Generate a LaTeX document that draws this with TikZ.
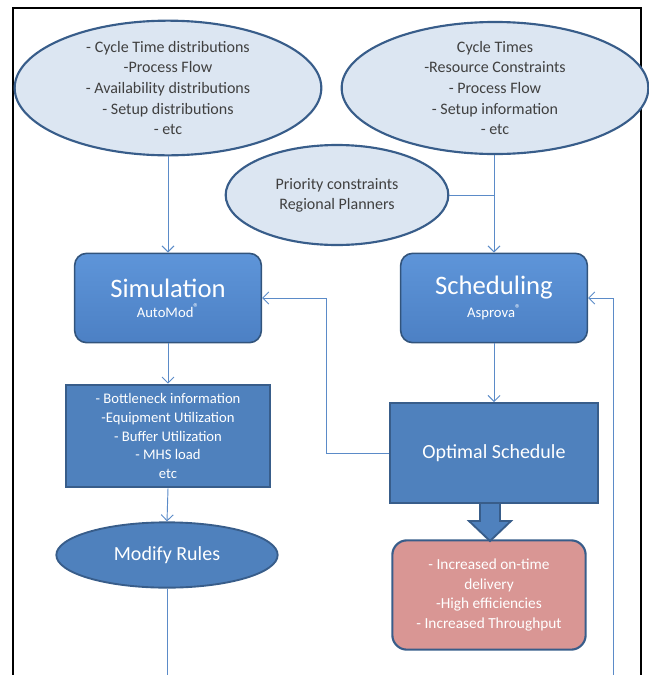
\documentclass[tikz,border=0pt]{standalone}
\usepackage{fontspec}
\setmainfont{Carlito}
\usepackage{tikz}
\usetikzlibrary{arrows.meta, positioning, shapes.geometric}

\definecolor{paleblue}{HTML}{DCE6F2}
\definecolor{edgeblue}{HTML}{385D8A}
\definecolor{boxblue}{HTML}{4F81BD}
\definecolor{tooltop}{HTML}{5E95D9}
\definecolor{toolbot}{HTML}{4C80C4}
\definecolor{wireblue}{HTML}{5B8BC8}
\definecolor{pinkbox}{HTML}{D99694}
\definecolor{inktext}{HTML}{404040}

\newcommand{\regmark}{\raisebox{0.8ex}{\fontsize{8.5}{9}\selectfont ®}}

\begin{document}
\begin{tikzpicture}[
  x=0.75pt, y=-0.75pt,
  datacloud/.style={ellipse, draw=edgeblue, line width=1.6pt, fill=paleblue,
                    inner sep=0pt, align=center, text=inktext,
                    font=\fontsize{12}{15.4}\selectfont},
  toolbox/.style={draw=edgeblue!90!black, line width=1.2pt, rounded corners=9pt,
                  top color=tooltop, bottom color=toolbot,
                  minimum width=140pt, minimum height=67pt, align=center,
                  text=white},
  infobox/.style={draw=edgeblue, line width=1.4pt, fill=boxblue, align=center,
                  text=white},
  conn/.style={draw=wireblue, line width=0.7pt,
               -{Straight Barb[length=4.5pt,width=9pt]}},
  wire/.style={draw=wireblue, line width=0.7pt},
  blk/.style={draw=edgeblue, line width=1.4pt, fill=boxblue, line join=miter}
]
  \useasboundingbox (0,0) rectangle (649,675);
  \draw[line width=1.6pt] (13,676) -- (13,8) -- (641,8) -- (641,676);

  % inputs
  \node[datacloud, minimum width=230pt, minimum height=101pt] (simdata) at (168,88)
    {- Cycle Time distributions\\-Process Flow\\- Availability distributions\\- Setup distributions\\- etc};
  \node[datacloud, minimum width=230pt, minimum height=98pt] (scheddata) at (495,88)
    {Cycle Times\\-Resource Constraints\\- Process Flow\\- Setup information\\- etc};
  \node[datacloud, minimum width=167pt, minimum height=75pt,
        font=\fontsize{12}{15}\selectfont] (prio) at (337,195)
    {Priority constraints\\Regional Planners};

  % tools
  \node[toolbox] (sim) at (168,298)
    {{\fontsize{20}{22}\selectfont Simulation}\\[3pt]{\fontsize{11}{13}\selectfont AutoMod\regmark}};
  \node[toolbox] (sched) at (494,298)
    {{\fontsize{20}{22}\selectfont Scheduling}\\[3pt]{\fontsize{11}{13}\selectfont Asprova\regmark}};

  % results
  \node[infobox, minimum width=153pt, minimum height=77pt,
        font=\fontsize{11}{13.9}\selectfont] (bott) at (168,436)
    {- Bottleneck information\\-Equipment Utilization\\- Buffer Utilization\\- MHS load\\etc};
  \node[infobox, minimum width=156pt, minimum height=75pt,
        font=\fontsize{15}{18}\selectfont] (opt) at (494,453) {Optimal Schedule};
  \node[ellipse, draw=edgeblue, line width=1.4pt, fill=boxblue, text=white,
        minimum width=166pt, minimum height=49pt, inner sep=0pt,
        font=\fontsize{15}{18}\selectfont] (mod) at (167,555) {Modify Rules};
  \node[draw=edgeblue, line width=1.6pt, fill=pinkbox, rounded corners=11pt,
        minimum width=145pt, minimum height=82pt, align=center, text=white,
        font=\fontsize{11.5}{14.6}\selectfont] (gain) at (489,595)
    {- Increased on-time\\delivery\\-High efficiencies\\- Increased Throughput};

  \coordinate (join) at (494,195);
  \coordinate (fbL) at (326,453);
  \coordinate (fbR) at (613,676);
  \coordinate (modend) at (167,676);
  \coordinate (tip) at (490,541);

  \draw[conn] (simdata.south) -- (sim.north);
  \draw[conn] (scheddata.south -| sched.north) -- (sched.north);
  \draw[wire] (prio.east) -- (join);
  \draw[conn] (sim.south) -- (bott.north);
  \draw[conn] (bott.south) -- (mod.north);
  \draw[wire] (mod.south) -- (modend);
  \draw[conn] (sched.south) -- (opt.north);
  \draw[conn] (opt.west) -- (fbL) |- (sim.east);
  \draw[conn] (fbR) |- (sched.east);

  % block arrow
  \draw[blk] (tip) -- ++(-21,-20) -- ++(11,0) -- ++(0,-18) -- ++(20,0)
    -- ++(0,18) -- ++(11,0) -- cycle;
\end{tikzpicture}
\end{document}
